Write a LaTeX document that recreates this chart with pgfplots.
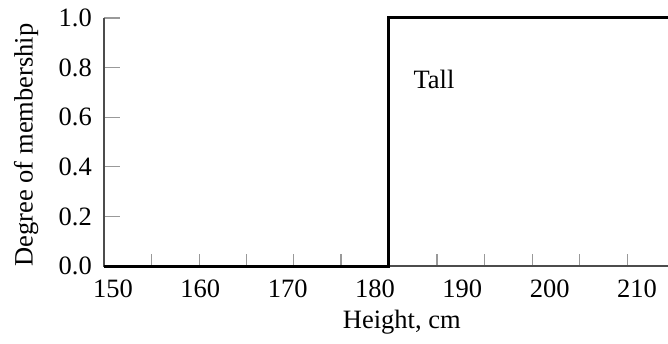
\documentclass[border=0pt]{standalone}
\usepackage{pgfplots}
\pgfplotsset{compat=1.18}
\usepackage{fontspec}
\setmainfont{Liberation Serif}
\begin{document}
\begin{tikzpicture}
\begin{axis}[
  scale only axis,
  width=564pt, height=248pt,
  xmin=148.97, xmax=213.55,
  ymin=0, ymax=1,
  axis line style={draw=none},
  xtick pos=bottom, ytick pos=left,
  clip=false,
  xtick={150,160,170,180,190,200,210},
  xticklabels={150,160,170,180,190,200,210},
  minor xtick={154.4,159.9,165.3,170.7,176.1,181.6,187.1,192.5,198.0,203.4,208.9},
  ytick={0,0.2,0.4,0.6,0.8,1.0},
  yticklabels={0.0,0.2,0.4,0.6,0.8,1.0},
  major x tick style={draw=none},
  minor x tick style={draw=black!40, line width=1.3pt},
  y tick style={draw=black!40, line width=1.3pt},
  major tick length=16pt,
  minor tick length=12pt,
  tick align=inside,
  ticklabel style={font=\fontsize{26.5}{30}\selectfont},
  xticklabel style={anchor=north, inner sep=0pt, yshift=-14pt},
  yticklabel style={anchor=east, inner sep=0pt, xshift=-12pt},
  /pgf/number format/assume math mode=true,
  xlabel={Height, cm},
  xlabel style={font=\fontsize{26.5}{30}\selectfont, at={(axis description cs:0.528,0)}, anchor=center, yshift=-56pt},
  ylabel={Degree of membership},
  ylabel style={font=\fontsize{26.5}{30}\selectfont, at={(axis description cs:-0.138,0.488)}, anchor=center},
]
\draw[black!70, line width=1.5pt] (rel axis cs:0,1) -- (rel axis cs:0,0) -- (rel axis cs:1,0);
\addplot[black, line width=3pt, line join=miter] coordinates {(148.97,0) (181.6,0) (181.6,1) (213.55,1)};
\node[font=\fontsize{26.5}{30}\selectfont, inner sep=0pt] at (axis description cs:0.585,0.754) {Tall};
\end{axis}
\pgfresetboundingbox
\path (-104pt,-77pt) rectangle (564pt,266pt);
\end{tikzpicture}
\end{document}
